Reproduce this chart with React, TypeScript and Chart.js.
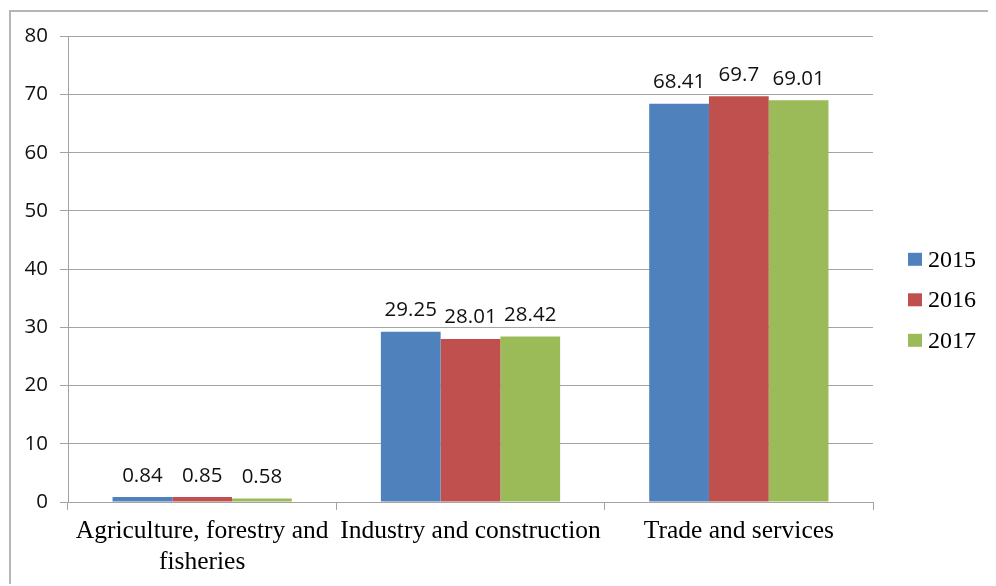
import React, { useEffect, useRef } from 'react';
import { Chart, registerables } from 'chart.js';

Chart.register(...registerables);

// GDP structure by economic sector (%)
const categories: (string | string[])[] = [
  ['Agriculture, forestry and', 'fisheries'],
  'Industry and construction',
  'Trade and services',
];
const years = ['2015', '2016', '2017'];
const values2015 = [0.84, 29.25, 68.41];
const values2016 = [0.85, 28.01, 69.7];
const values2017 = [0.58, 28.42, 69.01];
const seriesColors = ['#4F81BD', '#C0504D', '#9BBB59'];
const yMin = 0;
const yMax = 80;
const yStep = 10;

const SANS = '"Open Sans", "DejaVu Sans", sans-serif';
const SERIF = '"Liberation Serif", "Times New Roman", serif';
const GRID = '#a3a3a3';
const TEXT = '#111';

// Value above every bar, taken from the dataset itself
const valueLabels = {
  id: 'valueLabels',
  afterDatasetsDraw(chart: any) {
    const ctx = chart.ctx;
    ctx.save();
    ctx.font = `20.5px ${SANS}`;
    ctx.fillStyle = TEXT;
    ctx.textAlign = 'center';
    ctx.textBaseline = 'alphabetic';
    chart.data.datasets.forEach((ds: any, di: number) => {
      const meta = chart.getDatasetMeta(di);
      meta.data.forEach((bar: any, i: number) => {
        ctx.fillText(String(ds.data[i]), bar.x, bar.y - 15.5);
      });
    });
    ctx.restore();
  },
};

// Legend stacked at the right of the plot
const sideLegend = {
  id: 'sideLegend',
  afterDraw(chart: any) {
    const ctx = chart.ctx;
    const { right, top } = chart.chartArea;
    ctx.save();
    ctx.font = `24px ${SERIF}`;
    ctx.textBaseline = 'middle';
    ctx.textAlign = 'left';
    chart.data.datasets.forEach((ds: any, i: number) => {
      const cy = top + 223 + i * 40.5;
      const bx = right + 35;
      ctx.fillStyle = ds.backgroundColor;
      ctx.fillRect(bx, cy - 6.5, 14, 13);
      ctx.fillStyle = '#000';
      ctx.fillText(ds.label, bx + 20, cy + 1);
    });
    ctx.restore();
  },
};

export default function App() {
  const canvasRef = useRef<HTMLCanvasElement | null>(null);

  useEffect(() => {
    if (!canvasRef.current) return;
    const series = [values2015, values2016, values2017];
    const chart = new Chart(canvasRef.current, {
      type: 'bar',
      data: {
        labels: categories,
        datasets: years.map((y, i) => ({
          label: y,
          data: series[i],
          backgroundColor: seriesColors[i],
          borderWidth: 0,
          categoryPercentage: 0.668,
          barPercentage: 1,
        })),
      },
      options: {
        responsive: false,
        animation: false,
        layout: { padding: { left: 0, top: 23, right: 123, bottom: 0 } },
        plugins: {
          legend: { display: false },
          tooltip: { enabled: false },
        },
        scales: {
          x: {
            grid: {
              display: true,
              drawOnChartArea: false,
              drawTicks: true,
              tickLength: 8,
              color: GRID,
              lineWidth: 1,
            },
            border: { display: true, color: GRID, width: 1 },
            ticks: {
              color: '#000',
              font: { family: SERIF, size: 25.5, lineHeight: 1.2 },
              padding: 6,
              maxRotation: 0,
              autoSkip: false,
            },
            afterFit(scale: any) {
              scale.height = 84;
            },
          },
          y: {
            min: yMin,
            max: yMax,
            ticks: {
              stepSize: yStep,
              color: TEXT,
              font: { family: SANS, size: 20.5 },
              padding: 12,
            },
            grid: {
              color: GRID,
              lineWidth: 1,
              tickLength: 8,
            },
            border: { display: true, color: GRID, width: 1 },
            afterFit(scale: any) {
              scale.width = 57;
            },
          },
        },
      },
      plugins: [valueLabels, sideLegend],
    });
    return () => chart.destroy();
  }, []);

  return (
    <div
      style={{
        position: 'relative',
        left: 1,
        top: 2,
        width: 985,
        height: 574,
        borderLeft: '2px solid #b5b5b5',
        borderTop: '2px solid #b5b5b5',
        background: '#fff',
      }}
    >
      <canvas ref={canvasRef} width={985} height={574} style={{ display: 'block' }} />
    </div>
  );
}
